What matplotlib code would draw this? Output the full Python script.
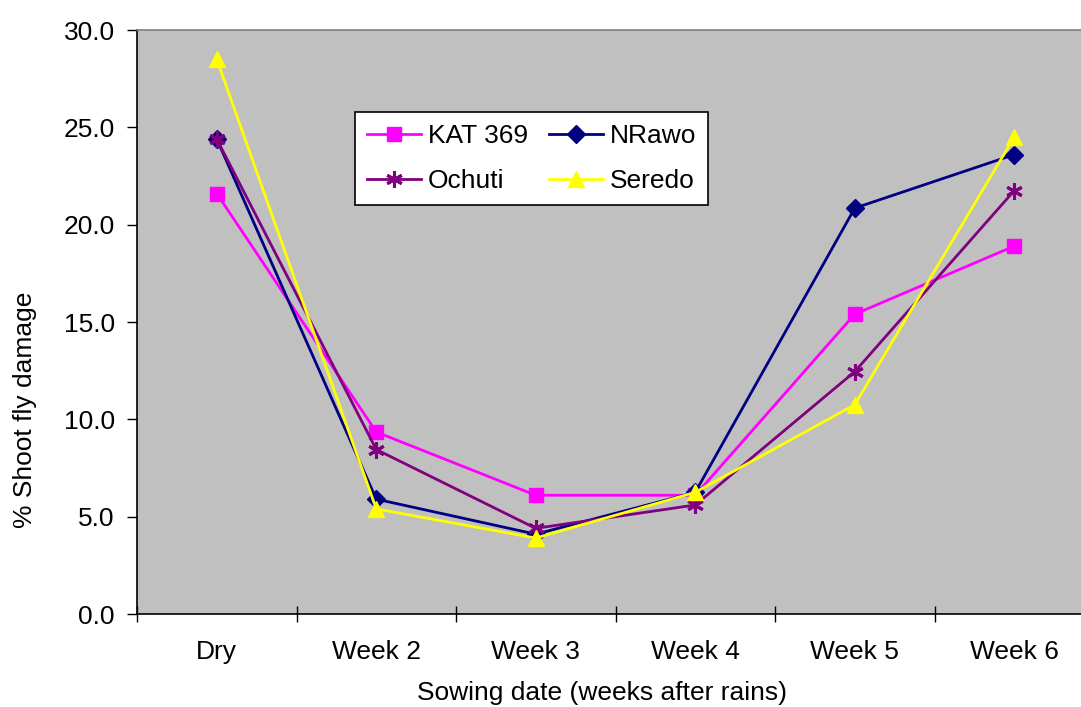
import matplotlib.pyplot as plt
from matplotlib.ticker import FixedLocator, FormatStrFormatter

plt.rcParams["font.family"] = ["Liberation Sans", "DejaVu Sans"]

categorias = ["Dry", "Week 2", "Week 3", "Week 4", "Week 5", "Week 6"]
kat_369 = [21.6, 9.35, 6.1, 6.1, 15.4, 18.9]
nrawo = [24.4, 5.9, 4.1, 6.25, 20.85, 23.6]
ochuti = [24.4, 8.45, 4.4, 5.6, 12.45, 21.75]
seredo = [28.5, 5.4, 3.9, 6.25, 10.75, 24.5]

FS = 19

fig = plt.figure(figsize=(10.81, 7.07), dpi=100)
ax = fig.add_axes([137 / 1081, 1 - 614 / 707, 957 / 1081, 584 / 707])
ax.set_facecolor("#C0C0C0")

x = list(range(len(categorias)))
l1, = ax.plot(x, kat_369, color="#FF00FF", lw=2, marker="s", ms=10, label="KAT 369")
l2, = ax.plot(x, nrawo, color="#000080", lw=2, marker="D", ms=9, label="NRawo")
l3, = ax.plot(x, ochuti, color="#800080", lw=2, marker=(6, 2, 0), ms=12, mew=2.2, label="Ochuti")
l4, = ax.plot(x, seredo, color="#FFFF00", lw=2, marker="^", ms=12, label="Seredo")

ax.set_xlim(-0.5, 5.5)
ax.set_ylim(0, 30)
ax.set_yticks([0, 5, 10, 15, 20, 25, 30])
ax.yaxis.set_major_formatter(FormatStrFormatter("%.1f"))
ax.tick_params(axis="y", direction="out", length=7, width=1, pad=9, labelsize=FS)

ax.set_xticks(x)
ax.set_xticklabels(categorias)
ax.xaxis.set_minor_locator(FixedLocator([i - 0.5 for i in range(len(categorias) + 1)]))
ax.tick_params(axis="x", which="major", length=0, pad=19, labelsize=FS)
ax.tick_params(axis="x", which="minor", direction="inout", length=12, width=1)

for s in ["left", "bottom"]:
    ax.spines[s].set_color("black")
    ax.spines[s].set_linewidth(1.2)
ax.spines["right"].set_visible(False)
ax.spines["top"].set_color("#808080")
ax.spines["top"].set_linewidth(1.2)

fig.text(25 / 1081, 1 - 410 / 707, "% Shoot fly damage", rotation=90,
         ha="center", va="center", fontsize=FS)
fig.text(602 / 1081, 1 - 693 / 707, "Sowing date (weeks after rains)",
         ha="center", va="center", fontsize=FS)

leg = fig.legend([l1, l3, l2, l4], ["KAT 369", "Ochuti", "NRawo", "Seredo"],
                 ncol=2, loc="upper left",
                 bbox_to_anchor=(355 / 1081, 1 - 112 / 707),
                 fontsize=FS, frameon=True, fancybox=False, framealpha=1,
                 edgecolor="black", handlelength=2.05, handletextpad=0.25,
                 columnspacing=0.8, labelspacing=0.8, borderpad=0.45,
                 borderaxespad=0)
leg.get_frame().set_linewidth(1.2)

fig.savefig("out.png", dpi=100)
